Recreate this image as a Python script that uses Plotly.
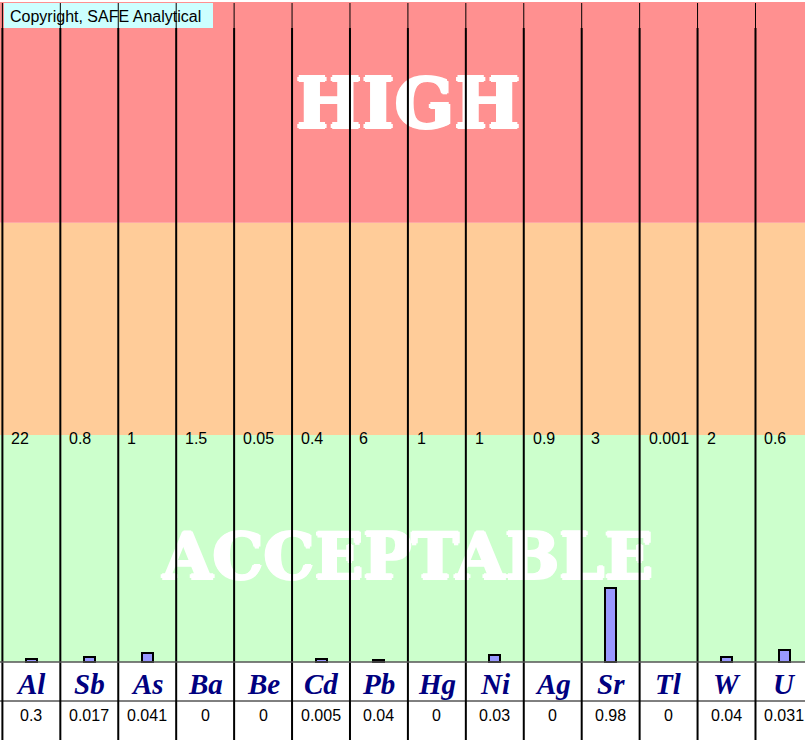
import plotly.graph_objects as go

# ---- data ----
elements = ["Al", "Sb", "As", "Ba", "Be", "Cd", "Pb", "Hg", "Ni", "Ag", "Sr", "Tl", "W", "U"]
results = [0.3, 0.017, 0.041, 0, 0, 0.005, 0.04, 0, 0.03, 0, 0.98, 0, 0.04, 0.031]
limits = [22, 0.8, 1, 1.5, 0.05, 0.4, 6, 1, 1, 0.9, 3, 0.001, 2, 0.6]
result_labels = ["0.3", "0.017", "0.041", "0", "0", "0.005", "0.04", "0", "0.03", "0", "0.98", "0", "0.04", "0.031"]
limit_labels = ["22", "0.8", "1", "1.5", "0.05", "0.4", "6", "1", "1", "0.9", "3", "0.001", "2", "0.6"]

W, H = 805, 740
COL = 57.93          # px per column
X0 = 2.4             # px of first column boundary
UNIT = 227.0         # px per y unit (acceptable band height)
Y0 = 662.0           # px of y = 0


def px_x(p):
    return (p - X0) / COL


def px_y(p):
    return (Y0 - p) / UNIT


n = len(elements)
ratios = [r / l if r > 0 else None for r, l in zip(results, limits)]
xs = [i + 0.5 for i in range(n)]

fig = go.Figure()

# big zone words (trace so that divider shapes sit above them)
fig.add_trace(go.Scatter(
    x=[7.0, 7.0], y=[px_y(110), px_y(562)],
    mode="text", text=["<b>HIGH</b>", "<b>ACCEPTABLE</b>"],
    textfont=dict(family="DejaVu Serif", size=[70, 64], color="white",
                  shadow="1.5px 0 0 white, -1.5px 0 0 white, 0 1.5px 0 white, 0 -1.5px 0 white"),
    textposition="middle center", hoverinfo="skip", showlegend=False,
))

fig.add_trace(go.Bar(
    x=xs, y=ratios, width=0.19,
    marker=dict(color="#9999ff", line=dict(color="black", width=2)),
    hoverinfo="skip", showlegend=False,
))

shapes = []
# bands
top_orange = px_y(222.7)
top_red = px_y(2)
shapes.append(dict(type="rect", xref="paper", x0=0, x1=1, y0=0, y1=1, fillcolor="#ccffcc", line_width=0, layer="below"))
shapes.append(dict(type="rect", xref="paper", x0=0, x1=1, y0=1, y1=top_orange, fillcolor="#ffcc99", line_width=0, layer="below"))
shapes.append(dict(type="rect", xref="paper", x0=0, x1=1, y0=top_orange, y1=top_red, fillcolor="#ff9090", line_width=0, layer="below"))
# copyright box
shapes.append(dict(type="rect", x0=px_x(4), x1=px_x(213), y0=px_y(28), y1=px_y(3), fillcolor="#ccffff", line_width=0, layer="below"))

# dividers
for i in range(n + 1):
    shapes.append(dict(type="line", x0=i, x1=i, y0=px_y(28), y1=px_y(3), line=dict(color="black", width=1), layer="above"))
    shapes.append(dict(type="line", x0=i, x1=i, y0=px_y(740), y1=px_y(28), line=dict(color="black", width=2), layer="above"))
# table horizontal lines
shapes.append(dict(type="line", xref="paper", x0=0, x1=1, y0=0, y1=0, line=dict(color="#555555", width=1.5), layer="above"))
shapes.append(dict(type="line", xref="paper", x0=0, x1=1, y0=px_y(701), y1=px_y(701), line=dict(color="black", width=1), layer="above"))
# table background
shapes.append(dict(type="rect", xref="paper", x0=0, x1=1, y0=px_y(740), y1=0, fillcolor="white", line_width=0, layer="below"))

annotations = []
annotations.append(dict(x=px_x(8), y=px_y(16), text="Copyright, SAFE Analytical", showarrow=False,
                        xanchor="left", yanchor="middle",
                        font=dict(family="Liberation Sans", size=16, color="black")))
for i in range(n):
    annotations.append(dict(x=i + 7 / COL, y=px_y(438), text=limit_labels[i], showarrow=False,
                            xanchor="left", yanchor="middle",
                            font=dict(family="Liberation Sans", size=16, color="black")))
    annotations.append(dict(x=xs[i], y=px_y(684), text="<b><i>" + elements[i] + "</i></b>", showarrow=False,
                            xanchor="center", yanchor="middle",
                            font=dict(family="Liberation Serif", size=29, color="#000080")))
    annotations.append(dict(x=xs[i], y=px_y(715), text=result_labels[i], showarrow=False,
                            xanchor="center", yanchor="middle",
                            font=dict(family="Liberation Sans", size=16, color="black")))

fig.update_layout(
    width=W, height=H,
    margin=dict(l=0, r=0, t=0, b=0),
    paper_bgcolor="white", plot_bgcolor="white",
    xaxis=dict(range=[px_x(0), px_x(W)], visible=False, fixedrange=True),
    yaxis=dict(range=[px_y(H), px_y(0)], visible=False, fixedrange=True),
    shapes=shapes, annotations=annotations,
    bargap=0, hovermode=False,
)

fig.write_html("out.html", config={"displayModeBar": False},
               post_script="document.body.style.margin='0';document.body.style.overflow='hidden';")
